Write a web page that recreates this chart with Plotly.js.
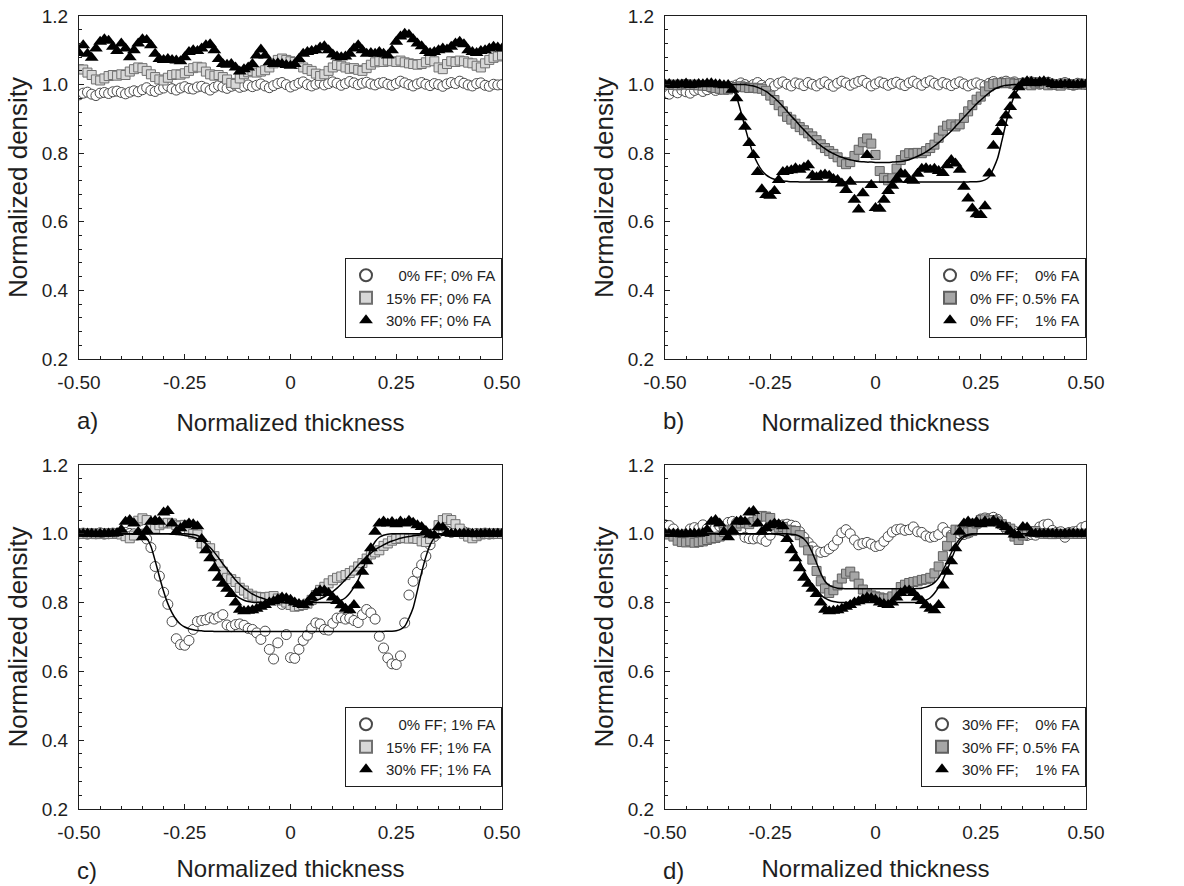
<!DOCTYPE html>
<html>
<head>
<meta charset="utf-8">
<script src="https://cdn.plot.ly/plotly-3.0.1.min.js"></script>
<style>
  html, body { margin: 0; padding: 0; background: #ffffff; }
  #chart { width: 1184px; height: 886px; }
</style>
</head>
<body>
<div id="chart"></div>
<script>
// Normalized thickness positions across the sample (shared by every profile)
const thickness = [
  -0.50, -0.49, -0.48, -0.47, -0.46, -0.45, -0.44, -0.43, -0.42, -0.41,
  -0.40, -0.39, -0.38, -0.37, -0.36, -0.35, -0.34, -0.33, -0.32, -0.31,
  -0.30, -0.29, -0.28, -0.27, -0.26, -0.25, -0.24, -0.23, -0.22, -0.21,
  -0.20, -0.19, -0.18, -0.17, -0.16, -0.15, -0.14, -0.13, -0.12, -0.11,
  -0.10, -0.09, -0.08, -0.07, -0.06, -0.05, -0.04, -0.03, -0.02, -0.01,
   0.00,  0.01,  0.02,  0.03,  0.04,  0.05,  0.06,  0.07,  0.08,  0.09,
   0.10,  0.11,  0.12,  0.13,  0.14,  0.15,  0.16,  0.17,  0.18,  0.19,
   0.20,  0.21,  0.22,  0.23,  0.24,  0.25,  0.26,  0.27,  0.28,  0.29,
   0.30,  0.31,  0.32,  0.33,  0.34,  0.35,  0.36,  0.37,  0.38,  0.39,
   0.40,  0.41,  0.42,  0.43,  0.44,  0.45,  0.46,  0.47,  0.48,  0.49,
   0.50
];

// a) 0% FF; 0% FA
const densA_FF0 = [
  0.970, 0.975, 0.978, 0.972, 0.968, 0.975, 0.977, 0.974, 0.979, 0.981,
  0.977, 0.973, 0.978, 0.982, 0.979, 0.985, 0.991, 0.983, 0.980, 0.986,
  0.990, 0.996, 0.988, 0.984, 0.990, 0.994, 0.989, 0.987, 0.993, 0.995,
  0.990, 0.984, 0.992, 0.997, 0.993, 0.989, 0.995, 0.998, 0.992, 0.995,
  0.999, 0.994, 0.998, 1.002, 0.996, 0.991, 0.997, 1.003, 1.006, 1.000,
  0.993, 0.998, 1.004, 1.008, 1.000, 0.996, 1.001, 1.005, 0.999, 1.003,
  1.008, 1.004, 0.998, 1.003, 1.009, 1.005, 1.000, 1.004, 1.007, 1.002,
  0.999, 1.004, 1.006, 1.001, 0.998, 1.003, 1.010, 1.005, 1.000, 0.996,
  1.002, 1.006, 1.001, 0.997, 1.003, 1.000, 0.995, 1.002, 1.006, 1.003,
  1.010, 1.004, 0.999, 0.996, 1.003, 1.005, 0.998, 0.995, 1.001, 0.999,
  1.000
];

// a) 15% FF; 0% FA
const densA_FF15 = [
  1.045, 1.044, 1.035, 1.028, 1.015, 1.012, 1.018, 1.025, 1.028, 1.026,
  1.030, 1.028, 1.038, 1.045, 1.050, 1.048, 1.040, 1.030, 1.022, 1.015,
  1.012, 1.020, 1.028, 1.030, 1.029, 1.033, 1.040, 1.048, 1.052, 1.050,
  1.038, 1.030, 1.026, 1.028, 1.022, 1.015, 1.005, 1.002, 1.018, 1.030,
  1.036, 1.040, 1.035, 1.038, 1.042, 1.050, 1.062, 1.072, 1.076, 1.072,
  1.068, 1.066, 1.060, 1.050, 1.045, 1.040, 1.032, 1.025, 1.030, 1.040,
  1.050, 1.057, 1.055, 1.050, 1.046, 1.048, 1.043, 1.040, 1.048, 1.058,
  1.065, 1.068, 1.066, 1.070, 1.068, 1.066, 1.070, 1.065, 1.062, 1.060,
  1.058, 1.060, 1.065, 1.072, 1.068, 1.050, 1.045, 1.060, 1.068, 1.066,
  1.070, 1.068, 1.064, 1.062, 1.055, 1.050, 1.062, 1.072, 1.078, 1.082,
  1.085
];

// a) 30% FF; 0% FA
const densA_FF30 = [
  1.092, 1.115, 1.090, 1.078, 1.105, 1.125, 1.132, 1.128, 1.110, 1.098,
  1.120, 1.105, 1.080, 1.100, 1.120, 1.132, 1.130, 1.115, 1.090, 1.075,
  1.072, 1.075, 1.072, 1.070, 1.068, 1.080, 1.095, 1.100, 1.098, 1.105,
  1.115, 1.118, 1.100, 1.075, 1.060, 1.058, 1.060, 1.050, 1.038, 1.045,
  1.050, 1.060, 1.085, 1.102, 1.085, 1.065, 1.060, 1.062, 1.060, 1.057,
  1.055, 1.060, 1.075, 1.090, 1.095, 1.098, 1.100, 1.108, 1.112, 1.100,
  1.088, 1.082, 1.080, 1.082, 1.090, 1.105, 1.115, 1.100, 1.090, 1.092,
  1.090, 1.095, 1.090, 1.085, 1.100, 1.125, 1.140, 1.148, 1.145, 1.132,
  1.120, 1.112, 1.098, 1.092, 1.095, 1.100, 1.105, 1.102, 1.110, 1.120,
  1.125, 1.118, 1.100, 1.095, 1.092, 1.098, 1.100, 1.105, 1.110, 1.108,
  1.105
];

// b) 0% FF; 0% FA
const densB_FA0 = [
  0.978, 0.972, 0.982, 0.976, 0.984, 0.979, 0.975, 0.983, 0.986, 0.980,
  0.985, 0.990, 0.983, 0.987, 0.992, 0.988, 0.995, 0.999, 1.005, 1.000,
  0.994, 1.000, 1.006, 0.998, 0.993, 1.003, 0.996, 1.004, 1.008, 1.001,
  0.996, 1.005, 1.002, 0.997, 1.006, 1.001, 0.996, 1.003, 1.008, 1.000,
  0.995, 1.004, 1.010, 1.005, 0.998, 1.004, 1.009, 1.012, 1.004, 0.996,
  1.002, 1.008, 1.004, 0.998, 1.003, 1.007, 1.001, 0.997, 1.005, 1.010,
  1.003, 0.998, 1.006, 1.011, 1.004, 0.999, 1.006, 1.002, 0.997, 1.003,
  1.008, 1.002, 0.996, 1.001, 1.005, 1.000, 0.997, 1.004, 1.009, 1.003,
  1.007, 1.010, 1.004, 1.008, 1.002, 1.005, 1.003, 1.008, 1.006, 1.001,
  1.004, 1.007, 1.002, 0.999, 1.003, 1.006, 1.001, 0.998, 1.004, 1.002,
  1.000
];

// b) 0% FF; 0.5% FA
const densB_FA05 = [
  1.000, 0.999, 1.000, 0.998, 1.000, 1.001, 0.999, 1.000, 0.998, 0.997,
  0.996, 0.993, 0.990, 0.988, 0.985, 0.986, 0.990, 0.993, 0.995, 0.992,
  0.990, 0.991, 0.989, 0.988, 0.982, 0.968, 0.955, 0.940, 0.922, 0.906,
  0.898, 0.886, 0.876, 0.867, 0.858, 0.849, 0.838, 0.826, 0.815, 0.806,
  0.798, 0.788, 0.775, 0.768, 0.774, 0.792, 0.810, 0.832, 0.843, 0.828,
  0.795, 0.748, 0.728, 0.721, 0.727, 0.755, 0.780, 0.794, 0.800, 0.799,
  0.801, 0.800, 0.806, 0.815, 0.825, 0.845, 0.866, 0.880, 0.884, 0.878,
  0.884, 0.903, 0.922, 0.940, 0.956, 0.965, 0.980, 0.995, 1.002, 1.004,
  1.005, 1.004, 1.006, 1.003, 1.002, 1.004, 1.001, 0.998, 1.003, 1.006,
  1.002, 0.998, 1.001, 1.000, 0.997, 1.003, 1.001, 0.999, 1.000, 1.002,
  1.000
];

// 0% FF; 1% FA (b, triangles; c, circles)
const densFF0_FA1 = [
  1.000, 1.002, 0.999, 1.001, 1.000, 1.003, 0.999, 1.000, 1.002, 1.001,
  1.003, 1.004, 1.001, 1.000, 0.998, 0.999, 0.985, 0.960, 0.905, 0.877,
  0.830, 0.795, 0.745, 0.695, 0.678, 0.676, 0.690, 0.722, 0.745, 0.748,
  0.750, 0.756, 0.752, 0.758, 0.765, 0.735, 0.730, 0.736, 0.738, 0.734,
  0.725, 0.722, 0.712, 0.693, 0.717, 0.664, 0.636, 0.683, 0.795, 0.707,
  0.640, 0.638, 0.664, 0.690, 0.705, 0.725, 0.741, 0.738, 0.722, 0.720,
  0.740, 0.755, 0.756, 0.752, 0.755, 0.748, 0.742, 0.765, 0.780, 0.770,
  0.752, 0.702, 0.668, 0.639, 0.622, 0.620, 0.645, 0.741, 0.822, 0.862,
  0.888, 0.910, 0.935, 0.968, 0.992, 1.005, 1.010, 1.008, 1.004, 1.008,
  1.010, 1.006, 1.002, 0.999, 1.001, 1.000, 1.002, 0.999, 1.000, 1.001,
  1.000
];

// c) 15% FF; 1% FA
const densC_FF15 = [
  1.000, 1.000, 1.001, 1.000, 0.999, 1.000, 1.002, 1.000, 1.000, 1.001,
  0.998, 0.993, 0.987, 0.995, 1.038, 1.045, 1.040, 1.018, 1.015, 1.025,
  1.030, 1.032, 1.030, 1.025, 1.022, 1.026, 1.010, 1.000, 0.998, 0.972,
  0.965, 0.958, 0.935, 0.912, 0.890, 0.872, 0.868, 0.860, 0.843, 0.835,
  0.826, 0.820, 0.817, 0.816, 0.815, 0.817, 0.819, 0.812, 0.806, 0.800,
  0.793, 0.788, 0.790, 0.793, 0.797, 0.808, 0.822, 0.837, 0.846, 0.856,
  0.865, 0.872, 0.876, 0.880, 0.886, 0.893, 0.905, 0.915, 0.928, 0.940,
  0.946, 0.952, 0.965, 0.972, 0.980, 0.985, 0.987, 0.988, 0.986, 0.987,
  0.985, 0.978, 0.976, 0.985, 1.000, 1.025, 1.040, 1.045, 1.040, 1.028,
  1.015, 1.000, 0.992, 0.987, 0.993, 0.998, 1.000, 1.000, 1.001, 1.000,
  1.000
];

// 30% FF; 1% FA (c and d, triangles)
const densFF30_FA1 = [
  1.000, 1.000, 1.001, 1.000, 0.999, 1.000, 1.000, 1.001, 1.000, 1.002,
  1.012, 1.035, 1.040, 1.030, 1.005, 0.990, 1.010, 1.035, 1.038, 1.035,
  1.062, 1.066, 1.030, 1.006, 1.016, 1.025, 1.030, 1.028, 1.022, 0.985,
  0.952, 0.929, 0.900, 0.872, 0.855, 0.840, 0.825, 0.800, 0.779, 0.775,
  0.776, 0.778, 0.782, 0.788, 0.793, 0.800, 0.804, 0.810, 0.815, 0.813,
  0.808, 0.800, 0.796, 0.793, 0.800, 0.815, 0.828, 0.835, 0.835, 0.828,
  0.815, 0.805, 0.792, 0.782, 0.778, 0.793, 0.850, 0.890, 0.920, 0.958,
  1.006, 1.030, 1.036, 1.030, 1.034, 1.028, 1.036, 1.030, 1.038, 1.032,
  1.025, 1.020, 1.008, 0.998, 0.996, 1.020, 1.018, 1.002, 1.000, 1.000,
  1.000, 1.001, 1.000, 1.000, 0.999, 1.000, 1.000, 1.001, 1.000, 1.000,
  1.000
];

// d) 30% FF; 0% FA
const densD_FA0 = [
  1.026, 1.024, 1.014, 0.998, 0.996, 0.999, 1.014, 1.018, 1.015, 1.026,
  1.015, 1.006, 1.018, 1.022, 1.020, 1.033, 1.036, 1.032, 1.010, 0.990,
  0.986, 0.985, 0.988, 0.984, 0.978, 0.996, 1.016, 1.020, 1.026, 1.028,
  1.025, 1.022, 1.006, 0.990, 0.975, 0.962, 0.950, 0.946, 0.948, 0.956,
  0.966, 0.982, 1.003, 1.012, 1.000, 0.982, 0.968, 0.972, 0.975, 0.970,
  0.963, 0.966, 0.978, 0.992, 1.005, 1.012, 1.014, 1.010, 1.012, 1.020,
  1.006, 1.004, 0.994, 0.990, 0.992, 0.998, 1.018, 1.005, 0.996, 1.004,
  1.000, 0.998, 1.002, 1.010, 1.028, 1.043, 1.046, 1.044, 1.048, 1.042,
  1.026, 1.014, 1.010, 1.008, 1.004, 0.997, 0.995, 0.998, 0.996, 1.020,
  1.026, 1.028, 1.010, 1.004, 1.006, 0.990, 1.004, 1.006, 1.008, 1.018,
  1.022
];

// d) 30% FF; 0.5% FA
const densD_FA05 = [
  1.000, 0.998, 0.992, 0.980, 0.976, 0.975, 0.978, 0.974, 0.976, 0.978,
  0.982, 0.986, 0.988, 0.992, 1.005, 1.012, 1.010, 1.022, 1.030, 1.032,
  1.028, 1.035, 1.048, 1.052, 1.050, 1.046, 1.025, 1.018, 1.020, 1.012,
  1.010, 1.008, 0.996, 0.975, 0.952, 0.925, 0.892, 0.862, 0.841, 0.828,
  0.836, 0.850, 0.870, 0.884, 0.890, 0.876, 0.855, 0.838, 0.828, 0.821,
  0.818, 0.815, 0.812, 0.812, 0.818, 0.828, 0.845, 0.852, 0.857, 0.860,
  0.862, 0.866, 0.868, 0.872, 0.885, 0.905, 0.935, 0.965, 0.990, 1.012,
  1.010, 1.006, 1.004, 1.008, 1.030, 1.040, 1.042, 1.038, 1.040, 1.036,
  1.028, 1.020, 1.015, 0.992, 0.982, 0.995, 1.006, 1.005, 1.008, 1.002,
  1.000, 1.001, 0.999, 1.000, 1.000, 0.999, 1.001, 1.000, 1.000, 1.000,
  1.000
];

// Fitted profiles
const fitFF0_FA1 = [
  1.000, 1.000, 1.000, 1.000, 1.000, 1.000, 1.000, 1.000, 1.000, 1.000,
  1.000, 1.000, 1.000, 1.000, 0.999, 0.997, 0.987, 0.964, 0.922, 0.876,
  0.833, 0.797, 0.770, 0.750, 0.737, 0.729, 0.724, 0.721, 0.719, 0.718,
  0.717, 0.717, 0.716, 0.716, 0.716, 0.716, 0.716, 0.716, 0.716, 0.716,
  0.716, 0.716, 0.716, 0.716, 0.716, 0.716, 0.716, 0.716, 0.716, 0.716,
  0.716, 0.716, 0.716, 0.716, 0.716, 0.716, 0.716, 0.716, 0.716, 0.716,
  0.716, 0.716, 0.716, 0.716, 0.716, 0.716, 0.716, 0.716, 0.716, 0.716,
  0.716, 0.716, 0.716, 0.717, 0.717, 0.718, 0.722, 0.731, 0.755, 0.785,
  0.835, 0.888, 0.933, 0.968, 0.988, 0.997, 0.999, 1.000, 1.000, 1.000,
  1.000, 1.000, 1.000, 1.000, 1.000, 1.000, 1.000, 1.000, 1.000, 1.000,
  1.000
];

const fitB_FA05 = [
  1.000, 1.000, 1.000, 1.000, 1.000, 1.000, 1.000, 1.000, 1.000, 1.000,
  1.000, 1.000, 1.000, 1.000, 1.000, 1.000, 1.000, 1.000, 1.000, 1.000,
  0.998, 0.996, 0.992, 0.987, 0.980, 0.971, 0.961, 0.949, 0.936, 0.922,
  0.908, 0.895, 0.881, 0.868, 0.855, 0.843, 0.832, 0.822, 0.813, 0.805,
  0.799, 0.793, 0.788, 0.784, 0.781, 0.778, 0.776, 0.775, 0.774, 0.774,
  0.773, 0.773, 0.773, 0.773, 0.774, 0.775, 0.776, 0.778, 0.781, 0.786,
  0.791, 0.797, 0.804, 0.812, 0.821, 0.831, 0.842, 0.853, 0.865, 0.878,
  0.891, 0.905, 0.918, 0.931, 0.944, 0.955, 0.966, 0.976, 0.985, 0.991,
  0.995, 0.998, 0.999, 1.000, 1.000, 1.000, 1.000, 1.000, 1.000, 1.000,
  1.000, 1.000, 1.000, 1.000, 1.000, 1.000, 1.000, 1.000, 1.000, 1.000,
  1.000
];

const fitC_FF15 = [
  1.000, 1.000, 1.000, 1.000, 1.000, 1.000, 1.000, 1.000, 1.000, 1.000,
  1.000, 1.000, 1.000, 1.000, 1.000, 1.000, 1.000, 1.000, 1.000, 1.000,
  1.000, 1.000, 0.999, 0.998, 0.997, 0.995, 0.993, 0.990, 0.986, 0.980,
  0.971, 0.960, 0.946, 0.930, 0.913, 0.897, 0.881, 0.866, 0.853, 0.842,
  0.833, 0.825, 0.819, 0.814, 0.810, 0.806, 0.803, 0.801, 0.800, 0.799,
  0.798, 0.798, 0.799, 0.800, 0.801, 0.803, 0.806, 0.811, 0.817, 0.824,
  0.832, 0.842, 0.854, 0.867, 0.881, 0.895, 0.909, 0.922, 0.934, 0.944,
  0.953, 0.961, 0.968, 0.974, 0.979, 0.983, 0.987, 0.990, 0.992, 0.994,
  0.996, 0.997, 0.998, 0.999, 1.000, 1.000, 1.000, 1.000, 1.000, 1.000,
  1.000, 1.000, 1.000, 1.000, 1.000, 1.000, 1.000, 1.000, 1.000, 1.000,
  1.000
];

const fitFF30_FA1 = [
  1.000, 1.000, 1.000, 1.000, 1.000, 1.000, 1.000, 1.000, 1.000, 1.000,
  1.000, 1.000, 1.000, 1.000, 1.000, 1.000, 1.000, 1.000, 1.000, 1.000,
  1.000, 1.000, 1.000, 1.000, 1.000, 1.000, 0.999, 0.998, 0.995, 0.988,
  0.972, 0.948, 0.920, 0.893, 0.869, 0.850, 0.835, 0.822, 0.813, 0.807,
  0.803, 0.801, 0.800, 0.800, 0.800, 0.800, 0.800, 0.800, 0.800, 0.800,
  0.800, 0.800, 0.800, 0.800, 0.800, 0.800, 0.800, 0.800, 0.800, 0.800,
  0.801, 0.803, 0.807, 0.814, 0.827, 0.845, 0.866, 0.895, 0.925, 0.955,
  0.977, 0.990, 0.996, 0.999, 1.000, 1.000, 1.000, 1.000, 1.000, 1.000,
  1.000, 1.000, 1.000, 1.000, 1.000, 1.000, 1.000, 1.000, 1.000, 1.000,
  1.000, 1.000, 1.000, 1.000, 1.000, 1.000, 1.000, 1.000, 1.000, 1.000,
  1.000
];

const fitD_FA05 = [
  1.000, 1.000, 1.000, 1.000, 1.000, 1.000, 1.000, 1.000, 1.000, 1.000,
  1.000, 1.000, 1.000, 1.000, 1.000, 1.000, 1.000, 1.000, 1.000, 1.000,
  1.000, 1.000, 1.000, 1.000, 1.000, 1.000, 1.000, 1.000, 1.000, 1.000,
  0.999, 0.997, 0.993, 0.985, 0.970, 0.945, 0.915, 0.885, 0.862, 0.850,
  0.845, 0.842, 0.841, 0.840, 0.840, 0.840, 0.840, 0.840, 0.840, 0.840,
  0.840, 0.840, 0.840, 0.840, 0.840, 0.840, 0.840, 0.840, 0.840, 0.840,
  0.841, 0.842, 0.845, 0.850, 0.858, 0.872, 0.893, 0.918, 0.945, 0.968,
  0.985, 0.994, 0.998, 1.000, 1.000, 1.000, 1.000, 1.000, 1.000, 1.000,
  1.000, 1.000, 1.000, 1.000, 1.000, 1.000, 1.000, 1.000, 1.000, 1.000,
  1.000, 1.000, 1.000, 1.000, 1.000, 1.000, 1.000, 1.000, 1.000, 1.000,
  1.000
];

// Axis ticks
const xTickVals = [-0.5, -0.25, 0, 0.25, 0.5];
const xTickText = ['-0.50', '-0.25', '0', '0.25', '0.50'];
const xMinorTicks = [-0.45, -0.40, -0.35, -0.30, -0.20, -0.15, -0.10, -0.05,
                      0.05, 0.10, 0.15, 0.20, 0.30, 0.35, 0.40, 0.45];
const yTickVals = [0.2, 0.4, 0.6, 0.8, 1.0, 1.2];
const yTickText = ['0.2', '0.4', '0.6', '0.8', '1.0', '1.2'];
const yMinorTicks = [0.24, 0.28, 0.32, 0.36, 0.44, 0.48, 0.52, 0.56,
                     0.64, 0.68, 0.72, 0.76, 0.84, 0.88, 0.92, 0.96,
                     1.04, 1.08, 1.12, 1.16];

// Legend labels
const labelsA = ['\u00a0\u00a0\u00a00% FF; 0% FA', '15% FF; 0% FA', '30% FF; 0% FA'];
const labelsB = ['0% FF;\u00a0\u00a0\u00a0\u00a00% FA', '0% FF; 0.5% FA', '0% FF;\u00a0\u00a0\u00a0\u00a01% FA'];
const labelsC = ['\u00a0\u00a0\u00a00% FF; 1% FA', '15% FF; 1% FA', '30% FF; 1% FA'];
const labelsD = ['30% FF;\u00a0\u00a0\u00a0\u00a00% FA', '30% FF; 0.5% FA', '30% FF;\u00a0\u00a0\u00a0\u00a01% FA'];
const panelLetters = ['a)', 'b)', 'c)', 'd)'];

// ---- styling ----
const FONT = 'Liberation Sans, Arial, Helvetica, sans-serif';
const INK = '#1e1e1e';
const W = 1184, H = 886;

const MARK = {
  circle:   { symbol: 'circle', size: 10, color: '#ffffff', line: { color: '#4a4a4a', width: 1 } },
  sqLight:  { symbol: 'square', size: 9, color: '#d8d8d8', line: { color: '#707070', width: 1 } },
  sqMid:    { symbol: 'square', size: 9, color: '#a6a6a6', line: { color: '#606060', width: 1 } },
  triangle: { symbol: 'triangle-up', size: 12, color: '#000000', line: { color: '#000000', width: 0 } }
};

// plot boxes in pixels: [left, right, top, bottom], plus x-title standoff per row
const boxes = [
  [79, 502, 16, 359],
  [665, 1086, 16, 359],
  [79, 502, 465, 809],
  [665, 1086, 465, 809]
];
const titleGap = [22, 22, 18, 18];

const panels = [
  { series: [[densA_FF0, MARK.circle, labelsA[0]], [densA_FF15, MARK.sqLight, labelsA[1]], [densA_FF30, MARK.triangle, labelsA[2]]],
    fits: [] },
  { series: [[densB_FA0, MARK.circle, labelsB[0]], [densB_FA05, MARK.sqMid, labelsB[1]], [densFF0_FA1, MARK.triangle, labelsB[2]]],
    fits: [fitB_FA05, fitFF0_FA1] },
  { series: [[densFF0_FA1, MARK.circle, labelsC[0]], [densC_FF15, MARK.sqLight, labelsC[1]], [densFF30_FA1, MARK.triangle, labelsC[2]]],
    fits: [fitFF0_FA1, fitC_FF15, fitFF30_FA1] },
  { series: [[densD_FA0, MARK.circle, labelsD[0]], [densD_FA05, MARK.sqMid, labelsD[1]], [densFF30_FA1, MARK.triangle, labelsD[2]]],
    fits: [fitD_FA05, fitFF30_FA1] }
];

const traces = [];
const layout = {
  width: W, height: H,
  margin: { l: 0, r: 0, t: 0, b: 0 },
  paper_bgcolor: '#ffffff', plot_bgcolor: '#ffffff',
  font: { family: FONT, color: INK },
  showlegend: true,
  annotations: []
};

panels.forEach((p, i) => {
  const n = i + 1;
  const suffix = n === 1 ? '' : String(n);
  const xa = 'x' + suffix, ya = 'y' + suffix;
  const legendId = 'legend' + suffix;
  const [l, r, t, b] = boxes[i];

  p.series.forEach(([vals, mk, name]) => {
    traces.push({
      type: 'scatter', mode: 'markers', x: thickness, y: vals, name: name,
      xaxis: xa, yaxis: ya, legend: legendId,
      marker: mk, cliponaxis: true, hoverinfo: 'skip'
    });
  });
  p.fits.forEach(vals => {
    traces.push({
      type: 'scatter', mode: 'lines', x: thickness, y: vals, showlegend: false,
      xaxis: xa, yaxis: ya, line: { color: '#000000', width: 1.5, shape: 'spline', smoothing: 0.6 },
      hoverinfo: 'skip'
    });
  });

  layout['xaxis' + suffix] = {
    domain: [l / W, r / W], anchor: ya, range: [-0.5, 0.5],
    tickmode: 'array', tickvals: xTickVals, ticktext: xTickText,
    ticks: 'inside', ticklen: 5, tickwidth: 1, tickcolor: INK,
    minor: { tickmode: 'array', tickvals: xMinorTicks, ticks: 'inside', ticklen: 3, tickwidth: 1, tickcolor: INK },
    showline: true, linecolor: INK, linewidth: 1, mirror: true,
    showgrid: false, zeroline: false, fixedrange: true,
    tickfont: { size: 19, family: FONT, color: INK }, ticklabelstandoff: 6,
    title: { text: 'Normalized thickness', font: { size: 24, family: FONT, color: INK }, standoff: titleGap[i] }
  };
  layout['yaxis' + suffix] = {
    domain: [(H - b) / H, (H - t) / H], anchor: xa, range: [0.2, 1.2],
    tickmode: 'array', tickvals: yTickVals, ticktext: yTickText,
    ticks: 'inside', ticklen: 5, tickwidth: 1, tickcolor: INK,
    minor: { tickmode: 'array', tickvals: yMinorTicks, ticks: 'inside', ticklen: 3, tickwidth: 1, tickcolor: INK },
    showline: true, linecolor: INK, linewidth: 1, mirror: true,
    showgrid: false, zeroline: false, fixedrange: true,
    tickfont: { size: 19, family: FONT, color: INK }, ticklabelstandoff: 6,
    title: { text: 'Normalized density', font: { size: 26, family: FONT, color: INK }, standoff: 6 }
  };
  layout[legendId] = {
    x: r / W, y: (H - (t + 322)) / H, xanchor: 'right', yanchor: 'bottom',
    bgcolor: '#ffffff', bordercolor: INK, borderwidth: 1,
    font: { size: 15, family: FONT, color: INK }, itemsizing: 'constant',
    traceorder: 'normal', itemclick: false, itemdoubleclick: false
  };
  layout.annotations.push({
    text: panelLetters[i], xref: 'paper', yref: 'paper',
    x: (l + 8) / W, y: (H - (b + 61)) / H, xanchor: 'center', yanchor: 'middle',
    showarrow: false, font: { size: 24, family: FONT, color: INK }
  });
});

Plotly.newPlot('chart', traces, layout, { staticPlot: true, displayModeBar: false });
</script>
</body>
</html>
